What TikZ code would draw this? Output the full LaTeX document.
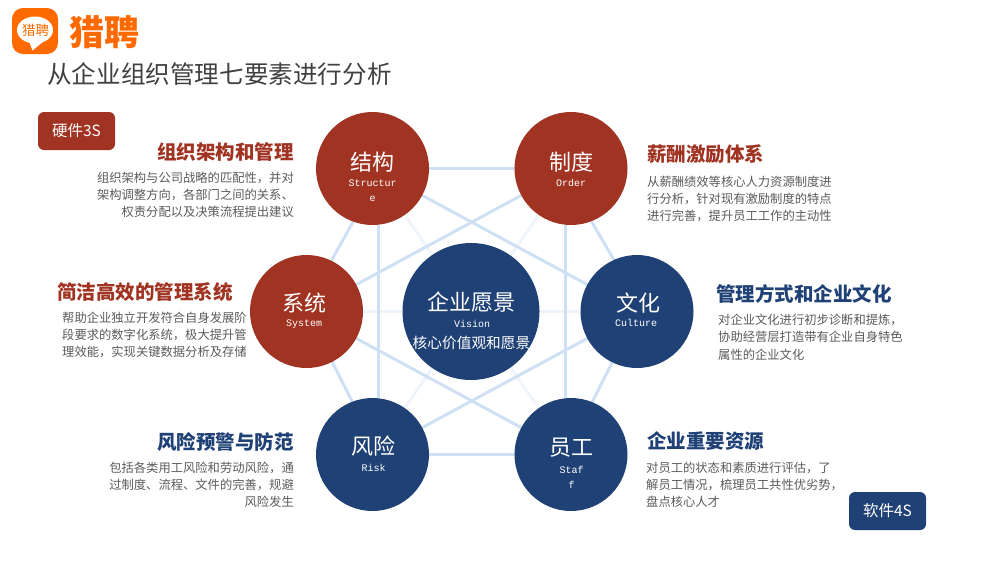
\documentclass[tikz,border=0pt]{standalone}
\usepackage{fontspec}
\setmainfont{Noto Sans CJK SC}
\newfontfamily\latinmono{Liberation Mono}
\usetikzlibrary{backgrounds}
\definecolor{redc}{HTML}{A03322}
\definecolor{bluec}{HTML}{1F4175}
\definecolor{orangec}{HTML}{FF6A00}
\definecolor{edgec}{HTML}{CFE0F4}
\definecolor{faintc}{HTML}{F0F5FC}
\definecolor{bodyc}{HTML}{5A5A5A}
\definecolor{titlec}{HTML}{404040}
\newcommand{\fsz}[2]{\fontsize{#1}{#2}\selectfont}
\tikzset{
  ball/.style={circle,inner sep=0pt,minimum size=113pt,line width=0pt},
  redball/.style={ball,fill=redc},
  blueball/.style={ball,fill=bluec},
  cname/.style={text=white,inner sep=0pt,font=\fsz{22}{24}},
  csub/.style={text=white,inner sep=0pt,align=center,font=\latinmono\fsz{10}{15}},
  head/.style={inner sep=0pt,font=\fsz{19.5}{22}\bfseries},
  body/.style={inner sep=0pt,text=bodyc,font=\fsz{12.3}{17.2}},
  badge/.style={rounded corners=6pt,minimum width=77pt,minimum height=38pt,inner sep=0pt,text=white,font=\fsz{15.5}{18}},
  edge/.style={draw=edgec,line width=3pt},
  faint/.style={draw=faintc,line width=3pt}
}
\begin{document}
\begin{tikzpicture}[x=1pt,y=-1pt]
\useasboundingbox (0,0) rectangle (982,579);
% logo
\node[fill=orangec,rounded corners=11pt,minimum size=46pt,inner sep=0pt] (logo) at (35,31) {};
\fill[white] (35,30) ellipse [x radius=18,y radius=13.5];
\fill[white] (29,41) -- (32.5,50.5) -- (44,41) -- cycle;
\node[inner sep=0pt,text=orangec,font=\fsz{13.5}{14}] (logotxt) at (35.5,30.5) {猎聘};
\node[inner sep=0pt,text=orangec,anchor=west,font=\fsz{35}{36}\bfseries] (brand) at (69,32.5) {猎聘};
\node[inner sep=0pt,text=titlec,anchor=west,font=\fsz{24.6}{28}] (title) at (47,74.5) {从企业组织管理七要素进行分析};
% badges
\node[badge,fill=redc] (hard) at (76.5,131) {硬件3S};
\node[badge,fill=bluec] (soft) at (887.5,511) {软件4S};
% balls
\node[redball] (structure) at (372.5,168.5) {};
\node[redball] (order) at (571,168.5) {};
\node[redball] (system) at (306.5,311.5) {};
\node[blueball] (culture) at (637,311.5) {};
\node[blueball] (risk) at (372.5,454.5) {};
\node[blueball] (staff) at (571,454.5) {};
\node[circle,fill=bluec,inner sep=0pt,minimum size=137pt] (vision) at (471,311.5) {};
% connectors
\begin{scope}[on background layer]
\draw[faint] (system) -- (culture);
\draw[faint] (structure) -- (staff);
\draw[faint] (order) -- (risk);
\draw[edge] (structure) -- (order);
\draw[edge] (order.-69) -- (culture.114.6);
\draw[edge] (culture.-116) -- (staff.68);
\draw[edge] (staff) -- (risk);
\draw[edge] (risk.111) -- (system.-63.7);
\draw[edge] (system.64.9) -- (structure.-110.6);
\draw[edge] (structure.-84.4) -- (risk.84.4);
\draw[edge] (order.-96) -- (staff.96);
\draw[edge] (structure) -- (culture);
\draw[edge] (order) -- (system);
\draw[edge] (system) -- (staff);
\draw[edge] (culture) -- (risk);
\end{scope}
% circle labels
\node[cname] (n1) at (372.5,162) {结构};
\node[csub,anchor=north] (s1) at (372.5,179.5) {Structur\\e};
\node[cname] (n2) at (571,162) {制度};
\node[csub,anchor=north] (s2) at (571,179.5) {Order};
\node[cname] (n3) at (304,303) {系统};
\node[csub,anchor=north] (s3) at (304,320) {System};
\node[cname] (n4) at (638.5,303) {文化};
\node[csub,anchor=north] (s4) at (636,319.5) {Culture};
\node[cname] (n5) at (373.5,446.5) {风险};
\node[csub,anchor=north] (s5) at (373.5,464) {Risk};
\node[cname] (n6) at (571,448) {员工};
\node[csub,anchor=north] (s6) at (571.5,466) {Staf\\f};
\node[cname] (n7) at (471.5,302) {企业愿景};
\node[csub,anchor=north] (s7) at (472,320.5) {Vision};
\node[inner sep=0pt,text=white,font=\fsz{14.7}{16}] (v3) at (471.5,343) {核心价值观和愿景};
% headings and bodies
\node[head,text=redc,anchor=east] (h1) at (294,152) {组织架构和管理};
\node[body,align=right,anchor=north east] (b1) at (294,171.5) {组织架构与公司战略的匹配性，并对\\架构调整方向，各部门之间的关系、\\权责分配以及决策流程提出建议};
\node[head,text=redc,anchor=west] (h2) at (647,154) {薪酬激励体系};
\node[body,align=left,anchor=north west] (b2) at (647,175.5) {从薪酬绩效等核心人力资源制度进\\行分析，针对现有激励制度的特点\\进行完善，提升员工工作的主动性};
\node[head,text=redc,anchor=west] (h3) at (57,292) {简洁高效的管理系统};
\node[body,align=left,anchor=north west] (b3) at (62,311.5) {帮助企业独立开发符合自身发展阶\\段要求的数字化系统，极大提升管\\理效能，实现关键数据分析及存储};
\node[head,text=bluec,anchor=west] (h4) at (716,294) {管理方式和企业文化};
\node[body,align=left,anchor=north west] (b4) at (718,314) {对企业文化进行初步诊断和提炼，\\协助经营层打造带有企业自身特色\\属性的企业文化};
\node[head,text=bluec,anchor=east] (h5) at (294,442) {风险预警与防范};
\node[body,align=right,anchor=north east] (b5) at (294,461.5) {包括各类用工风险和劳动风险，通\\过制度、流程、文件的完善，规避\\风险发生};
\node[head,text=bluec,anchor=west] (h6) at (647,441.5) {企业重要资源};
\node[body,align=left,anchor=north west] (b6) at (646,461.5) {对员工的状态和素质进行评估，了\\解员工情况，梳理员工共性优劣势，\\盘点核心人才};
\end{tikzpicture}
\end{document}
